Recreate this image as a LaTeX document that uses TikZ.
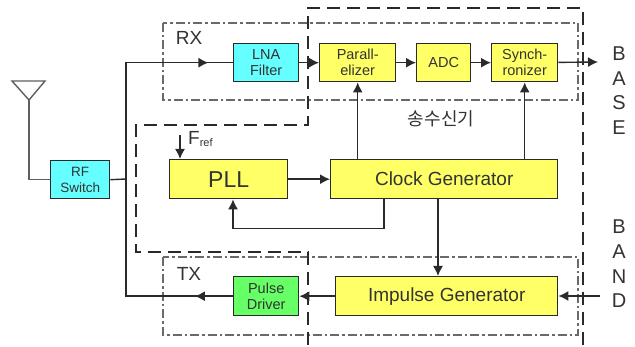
\documentclass[tikz,border=0pt]{standalone}
\usepackage{fontspec}
\setmainfont{Liberation Sans}
\newfontfamily\cjk{Noto Sans CJK KR}
\usetikzlibrary{arrows.meta,decorations.markings,calc}
\definecolor{ink}{HTML}{2A2A2A}
\definecolor{txt}{HTML}{333333}
\definecolor{cy}{HTML}{66FFFF}
\definecolor{ye}{HTML}{FFFF66}
\definecolor{gr}{HTML}{66FF66}
\tikzset{
  blockbox/.style={draw=ink,line width=1.4pt,text=txt,align=center,inner sep=0pt,anchor=north west,font=\fontsize{14.5}{16}\selectfont},
  conn/.style={draw=ink,line width=1.4pt},
  arr/.style={conn,-{Latex[length=10pt,width=10pt]}},
  midarr/.style={conn,postaction={decorate},decoration={markings,mark=at position #1 with {\arrow{Latex[length=10pt,width=10pt]}}}},
  dashdot/.style={draw=ink!70,line width=1.4pt,dash pattern=on 9pt off 3pt on 2.5pt off 3pt},
  thickdash/.style={draw=ink,line width=1.5pt,dash pattern=on 13pt off 7pt},
  lab/.style={text=txt,inner sep=0pt},
  letter/.style={lab,font=\fontsize{20}{22}\selectfont},
}
\begin{document}
\begin{tikzpicture}[x=1pt,y=-1pt]
\useasboundingbox[fill=white] (0,0) rectangle (635,347);
% dashed regions
\draw[dashdot] (163,23) rectangle (578,100);
\draw[dashdot] (163,257) rectangle (578,335);
\draw[thickdash] (308,345) -- (308,252) -- (136,252) -- (136,125) -- (308,125) -- (308,8) -- (583,8) -- (583,345);
% blocks
\node[blockbox,fill=cy,minimum width=65pt,minimum height=38pt] (lna) at (233,43) {LNA\\Filter};
\node[blockbox,fill=ye,minimum width=76pt,minimum height=38pt] (par) at (319,43) {Parall-\\elizer};
\node[blockbox,fill=ye,minimum width=54pt,minimum height=38pt] (adc) at (416,43) {ADC};
\node[blockbox,fill=ye,minimum width=66pt,minimum height=38pt] (syn) at (491,43) {Synch-\\ronizer};
\node[blockbox,fill=cy,minimum width=59pt,minimum height=38pt,font=\fontsize{13.5}{16}\selectfont] (rf) at (50,160) {RF\\Switch};
\node[blockbox,fill=ye,minimum width=118pt,minimum height=39pt,font=\fontsize{23}{26}\selectfont] (pll) at (169,159) {PLL};
\node[blockbox,fill=ye,minimum width=227pt,minimum height=39pt,font=\fontsize{19}{22}\selectfont] (clk) at (330,159) {Clock Generator};
\node[blockbox,fill=ye,minimum width=222pt,minimum height=39pt,font=\fontsize{19}{22}\selectfont] (imp) at (335,276) {Impulse Generator};
\node[blockbox,fill=gr,minimum width=65pt,minimum height=39pt] (drv) at (233,276) {Pulse\\Driver};
% free ends
\coordinate (tip) at (29,100);
\coordinate (bus) at (126,179);
\coordinate (out) at (598,62);
\coordinate (in) at (600,296);
\coordinate (fr) at (180,135);
% antenna
\draw[draw=ink!75,line width=1.4pt] (12,81) -- (45,81) -- (tip) -- cycle;
\draw[draw=ink!75,line width=1.4pt] (tip) |- (rf.west);
% bus
\draw[conn] (rf.east) -- (bus);
\draw[midarr=0.89] (bus) |- (lna.west);
\draw[midarr=0.17] (drv.west) -| (bus);
% arrows
\draw[arr] (lna) -- (par);
\draw[arr] (par) -- (adc);
\draw[arr] (adc) -- (syn);
\draw[arr] (syn) -- (out);
\draw[arr] (clk.north -| par) -- (par.south);
\draw[arr] (clk.north -| syn) -- (syn.south);
\draw[arr] (pll) -- (clk);
\draw[arr] ($(clk.south west)+(54,0)$) |- ++(-77,29) -| ($(pll.south west)+(64,0)$);
\draw[arr] ($(clk.south west)+(108,0)$) -- ($(imp.north west)+(103,0)$);
\draw[arr] (imp) -- (drv);
\draw[arr] (in) -- (imp.east |- in);
\draw[arr] (fr) -- (fr |- pll.north);
% labels
\node[lab,font=\fontsize{19}{20}\selectfont] (rxl) at (189,38) {RX};
\node[lab,font=\fontsize{19}{20}\selectfont] (txl) at (189,274) {TX};
\node[lab,anchor=west,font=\fontsize{19}{20}\selectfont] (frl) at (188,139) {F\raisebox{-1.5pt}{\fontsize{11}{11}\selectfont ref}};
\node[lab,font=\cjk\fontsize{18}{20}\selectfont] (kor) at (441,119) {송수신기};
\node[letter] (b1) at (619,54) {B};
\node[letter] (a1) at (619,79) {A};
\node[letter] (s1) at (619,103) {S};
\node[letter] (e1) at (619,128) {E};
\node[letter] (b2) at (619,227) {B};
\node[letter] (a2) at (619,252) {A};
\node[letter] (n2) at (619,277) {N};
\node[letter] (d2) at (619,301) {D};
\end{tikzpicture}
\end{document}
